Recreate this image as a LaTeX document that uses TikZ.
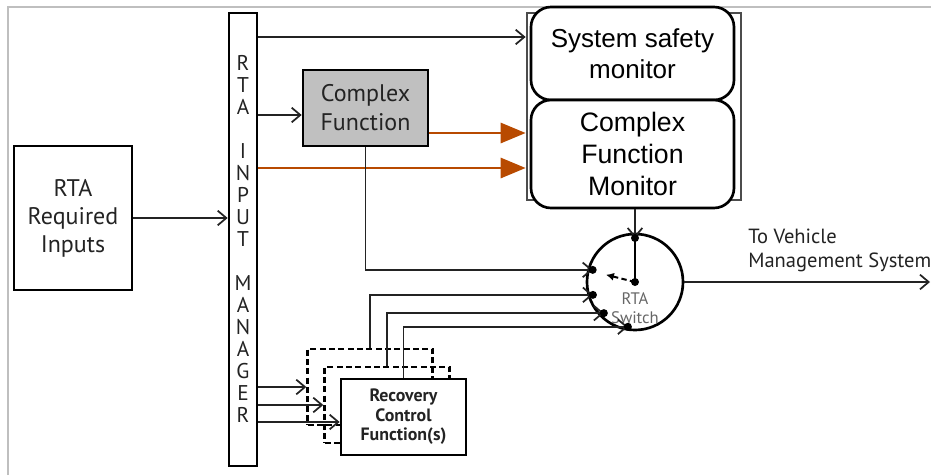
\documentclass[tikz,border=0pt]{standalone}
\usepackage{fontspec}
\setmainfont{PT Sans}
\newfontfamily\arialfont{Liberation Sans}
\usetikzlibrary{arrows.meta,calc}
\definecolor{rtaorange}{RGB}{184,74,0}
\definecolor{cfgray}{RGB}{192,192,192}
\definecolor{ink}{RGB}{35,35,35}
\begin{document}
\begin{tikzpicture}[x=0.75pt,y=-0.75pt,
  arr/.style={-{Straight Barb[length=6.5pt,width=11pt]},line width=1.3pt,draw=ink},
  orarr/.style={-{Triangle[length=18.75pt,width=15pt]},line width=2.2pt,draw=rtaorange},
  box/.style={draw,line width=2pt,inner sep=0pt,align=center,text=ink},
  dashbox/.style={draw,line width=1.8pt,dash pattern=on 4.5pt off 2.5pt,minimum width=93.75pt,minimum height=57pt}]
\useasboundingbox (0,0) rectangle (931,475);
\draw[black!25,line width=1pt] (8,475)--(8,7)--(931,7);

% inputs and input manager
\node[box,minimum width=88.5pt,minimum height=108pt,font=\fontsize{18}{21}\selectfont] (inputs) at (73,218) {RTA\\Required\\Inputs};
\node[box,minimum width=21pt,minimum height=339.75pt] (rim) at (243,239.5) {};
\foreach \l [count=\k] in {R,T,A,,I,N,P,U,T,,M,A,N,A,G,E,R}
  \node[text=ink,font=\fontsize{16}{16}\selectfont] (l\k) at (243,41+22*\k) {\l};
\node[box,fill=cfgray,minimum width=93.75pt,minimum height=57pt,font=\fontsize{18}{21.75}\selectfont] (cfun) at (365.5,108) {Complex\\Function};

% monitors
\node[draw=black!70,line width=2pt,minimum width=160.5pt,minimum height=140.25pt] (monframe) at (634,106.5) {};
\node[box,fill=white,rounded corners=15pt,minimum width=152.25pt,minimum height=69.75pt,text=black,font=\arialfont\fontsize{19.5}{23.5}\selectfont] (ssm) at (632.5,53.5) {System safety\\monitor};
\node[box,fill=white,rounded corners=15pt,minimum width=152.25pt,minimum height=81pt,text=black,font=\arialfont\fontsize{20}{24}\selectfont] (cfm) at (632.5,154) {Complex\\Function\\Monitor};

% switch
\node[circle,draw,line width=2pt,minimum size=72pt,inner sep=0pt] (sw) at (635,282) {};
\node[text=black!60,font=\fontsize{12.5}{14.25}\selectfont,align=center,inner sep=0pt] (swlabel) at (635,308) {RTA\\Switch};
\coordinate (c0) at ($(sw.center)+(90:33pt)$);
\coordinate (c1) at ($(sw.center)+(164:33pt)$);
\coordinate (c2) at ($(sw.center)+(197:33pt)$);
\coordinate (c3) at ($(sw.center)+(225:33pt)$);
\coordinate (c4) at ($(sw.center)+(261:34pt)$);
\node[anchor=west,align=left,inner sep=0pt,text=ink,font=\fontsize{15.4}{18}\selectfont] (tovms) at (748,250) {To Vehicle\\Management System};

% recovery
\node[dashbox] (rc1) at (370,387) {};
\node[dashbox] (rc2) at (387,405) {};
\node[box,fill=white,minimum width=93.75pt,minimum height=57pt,font=\bfseries\fontsize{13.4}{14.6}\selectfont] (rc3) at (403.5,417) {Recovery\\Control\\Function(s)};

% connectors
\coordinate (t1) at (0,37);
\coordinate (t2) at (0,115);
\coordinate (t3) at (0,133);
\coordinate (t4) at (0,168);
\coordinate (r3in) at ([yshift=-3.75pt]rc3.west);
\coordinate (out) at (930,282);
\draw[arr] (inputs.east) -- (inputs.east -| rim.west);
\draw[arr] (rim.east |- t1) -- (monframe.west |- t1);
\draw[arr] (rim.east |- t2) -- (cfun.west |- t2);
\draw[orarr] (cfun.east |- t3) -- (monframe.west |- t3);
\draw[orarr] (rim.east |- t4) -- (monframe.west |- t4);
\draw[arr] (c0 |- cfm.south) -- (c0);
\draw[arr] (cfun.south) |- (c1);
\draw[arr] (rc1.north) |- (c2);
\draw[arr] (rc2.north) |- (c3);
\draw[arr] (rc3.north) |- (c4);
\draw[arr] (rc1.west -| rim.east) -- (rc1.west);
\draw[arr] (rc2.west -| rim.east) -- (rc2.west);
\draw[arr] (r3in -| rim.east) -- (r3in);
\draw[arr] (sw.east) -- (out |- sw.east);

% needle and contacts
\draw[line width=2pt] (sw.center) -- (c0);
\draw[line width=1.5pt,dash pattern=on 4pt off 2.5pt,-{Latex[length=6pt,width=6pt]}] (sw.center) -- ($(sw.center)+(166:22.5pt)$);
\foreach \c in {sw.center,c0,c1,c2,c3,c4}
  \fill (\c) circle (3pt);
\end{tikzpicture}
\end{document}
